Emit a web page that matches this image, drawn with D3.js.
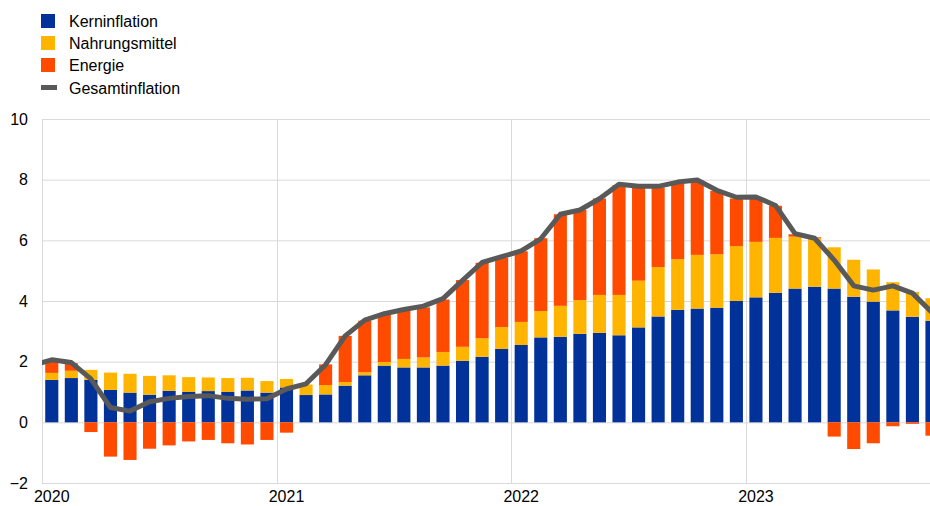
<!DOCTYPE html>
<html>
<head>
<meta charset="utf-8">
<script src="https://d3js.org/d3.v7.min.js"></script>
<style>
  body { margin: 0; background: #fff; }
  text { font-family: Arial, "Liberation Sans", sans-serif; font-size: 16px; fill: #000; }
</style>
</head>
<body>
<script>
// months shown on the axis (Dec 2019 only carries the line into the left edge)
const months = [
  "2019-12",
  "2020-01","2020-02","2020-03","2020-04","2020-05","2020-06","2020-07","2020-08","2020-09","2020-10","2020-11","2020-12",
  "2021-01","2021-02","2021-03","2021-04","2021-05","2021-06","2021-07","2021-08","2021-09","2021-10","2021-11","2021-12",
  "2022-01","2022-02","2022-03","2022-04","2022-05","2022-06","2022-07","2022-08","2022-09","2022-10","2022-11","2022-12",
  "2023-01","2023-02","2023-03","2023-04","2023-05","2023-06","2023-07","2023-08","2023-09","2023-10"
];
// extra empty slots on the right, the chart is cut at the window edge
const axisMonths = months.concat(["2023-11", "2023-12"]);

const core = [null,
  1.40, 1.46, 1.40, 1.07, 0.98, 0.91, 1.04, 1.00, 1.03, 1.00, 1.05, 0.98,
  1.15, 0.90, 0.92, 1.21, 1.55, 1.87, 1.81, 1.81, 1.87, 2.03, 2.16, 2.42,
  2.55, 2.80, 2.82, 2.92, 2.95, 2.87, 3.13, 3.49, 3.71, 3.75, 3.78, 4.00,
  4.12, 4.27, 4.41, 4.47, 4.41, 4.14, 3.98, 3.69, 3.48, 3.35];
const food = [null,
  0.23, 0.24, 0.33, 0.57, 0.62, 0.62, 0.51, 0.49, 0.45, 0.46, 0.42, 0.38,
  0.28, 0.35, 0.31, 0.12, 0.10, 0.12, 0.28, 0.33, 0.45, 0.46, 0.61, 0.72,
  0.76, 0.87, 1.02, 1.11, 1.25, 1.33, 1.54, 1.63, 1.67, 1.77, 1.76, 1.81,
  1.83, 1.81, 1.71, 1.60, 1.36, 1.22, 1.06, 0.93, 0.82, 0.74];
const energy = [null,
  0.36, 0.25, -0.32, -1.13, -1.24, -0.87, -0.76, -0.63, -0.58, -0.69, -0.73, -0.58,
  -0.34, 0.00, 0.68, 1.52, 1.70, 1.56, 1.58, 1.65, 1.73, 2.20, 2.49, 2.30,
  2.33, 2.40, 3.02, 2.97, 3.18, 3.62, 3.08, 2.62, 2.50, 2.45, 2.09, 1.57,
  1.46, 1.06, 0.08, 0.03, -0.47, -0.88, -0.69, -0.13, -0.05, -0.44];
const headline = [1.88,
  2.06, 1.97, 1.43, 0.49, 0.37, 0.68, 0.79, 0.85, 0.88, 0.79, 0.76, 0.78,
  1.10, 1.27, 1.90, 2.85, 3.37, 3.58, 3.72, 3.83, 4.08, 4.68, 5.27, 5.46,
  5.65, 6.05, 6.86, 7.00, 7.37, 7.85, 7.78, 7.78, 7.92, 7.99, 7.65, 7.42,
  7.43, 7.15, 6.22, 6.07, 5.35, 4.50, 4.36, 4.50, 4.26, 3.62];

const yTicks = [-2, 0, 2, 4, 6, 8, 10];
const yearTicks = ["2020-01", "2021-01", "2022-01", "2023-01"];
const yearLabels = ["2020", "2021", "2022", "2023"];

const seriesNames = ["Kerninflation", "Nahrungsmittel", "Energie"];
const seriesColors = ["#003299", "#ffb400", "#ff4b00"];
const lineName = "Gesamtinflation";
const lineColor = "#595959";

const width = 930, height = 506;
const plot = {left: 42, top: 119, bottom: 483, right: 930};
const monthStep = 19.56;

let svg = d3.select("body")
  .append("svg")
  .attr("width", width)
  .attr("height", height);

// band scale, first slot (Dec 2019) sits left of the plot
let x = d3.scaleBand()
  .domain(axisMonths)
  .range([plot.left - monthStep, plot.left - monthStep + axisMonths.length * monthStep])
  .paddingInner(0.33)
  .paddingOuter(0.165);

let y = d3.scaleLinear()
  .domain([-2, 10])
  .range([plot.bottom, plot.top]);

let xMid = (m) => x(m) + x.bandwidth() / 2;

svg.append("clipPath")
  .attr("id", "plotclip")
  .append("rect")
  .attr("x", plot.left)
  .attr("y", 0)
  .attr("width", plot.right - plot.left)
  .attr("height", height);

// horizontal grid + y labels
let yAxis = d3.axisLeft(y)
  .tickValues(yTicks)
  .tickSize(-(plot.right - plot.left))
  .tickPadding(14);
let gy = svg.append("g")
  .attr("transform", "translate(" + plot.left + ",0)")
  .call(yAxis);
gy.select(".domain").remove();
gy.selectAll("line").attr("stroke", "#d9d9d9").attr("stroke-width", 1);
gy.selectAll("text").style("font-size", "16px").attr("fill", "#000");

// vertical grid at year starts
svg.append("g")
  .selectAll("line")
  .data(yearTicks)
  .enter()
  .append("line")
  .attr("x1", (d) => Math.round(x(d) - x.step() * x.paddingInner() / 2) + 0.5)
  .attr("x2", (d) => Math.round(x(d) - x.step() * x.paddingInner() / 2) + 0.5)
  .attr("y1", plot.top)
  .attr("y2", plot.bottom)
  .attr("stroke", "#d9d9d9")
  .attr("stroke-width", 1);

// year labels under January
svg.append("g")
  .selectAll("text")
  .data(yearTicks)
  .enter()
  .append("text")
  .attr("x", (d) => xMid(d))
  .attr("y", 502)
  .attr("text-anchor", "middle")
  .text((d, i) => yearLabels[i]);

// stacked bars
let rows = months.map((m, i) => ({month: m, core: core[i], food: food[i], energy: energy[i]}))
  .filter((d) => d.core !== null);
let stacked = d3.stack()
  .keys(["core", "food", "energy"])
  .offset(d3.stackOffsetDiverging)(rows);

let bars = svg.append("g").attr("clip-path", "url(#plotclip)");
bars.selectAll("g")
  .data(stacked)
  .enter()
  .append("g")
  .attr("fill", (d, i) => seriesColors[i])
  .selectAll("rect")
  .data((d) => d)
  .enter()
  .append("rect")
  .attr("x", (d) => x(d.data.month))
  .attr("width", x.bandwidth())
  .attr("y", (d) => y(Math.max(d[0], d[1])))
  .attr("height", (d) => Math.abs(y(d[0]) - y(d[1])));

// headline line
let line = d3.line()
  .x((d, i) => xMid(months[i]))
  .y((d) => y(d));
svg.append("path")
  .attr("clip-path", "url(#plotclip)")
  .datum(headline)
  .attr("d", line)
  .attr("fill", "none")
  .attr("stroke", lineColor)
  .attr("stroke-width", 5)
  .attr("stroke-linejoin", "round");

// legend
let legend = svg.append("g");
let rowY = [21, 43, 65, 87.5];
seriesNames.forEach((name, i) => {
  legend.append("rect")
    .attr("x", 41)
    .attr("y", rowY[i] - 7)
    .attr("width", 14)
    .attr("height", 14)
    .attr("fill", seriesColors[i]);
  legend.append("text")
    .attr("x", 69)
    .attr("y", rowY[i] + 6)
    .text(name);
});
legend.append("rect")
  .attr("x", 41)
  .attr("y", rowY[3] - 2.5)
  .attr("width", 16)
  .attr("height", 5)
  .attr("fill", lineColor);
legend.append("text")
  .attr("x", 69)
  .attr("y", rowY[3] + 6)
  .text(lineName);
</script>
</body>
</html>
